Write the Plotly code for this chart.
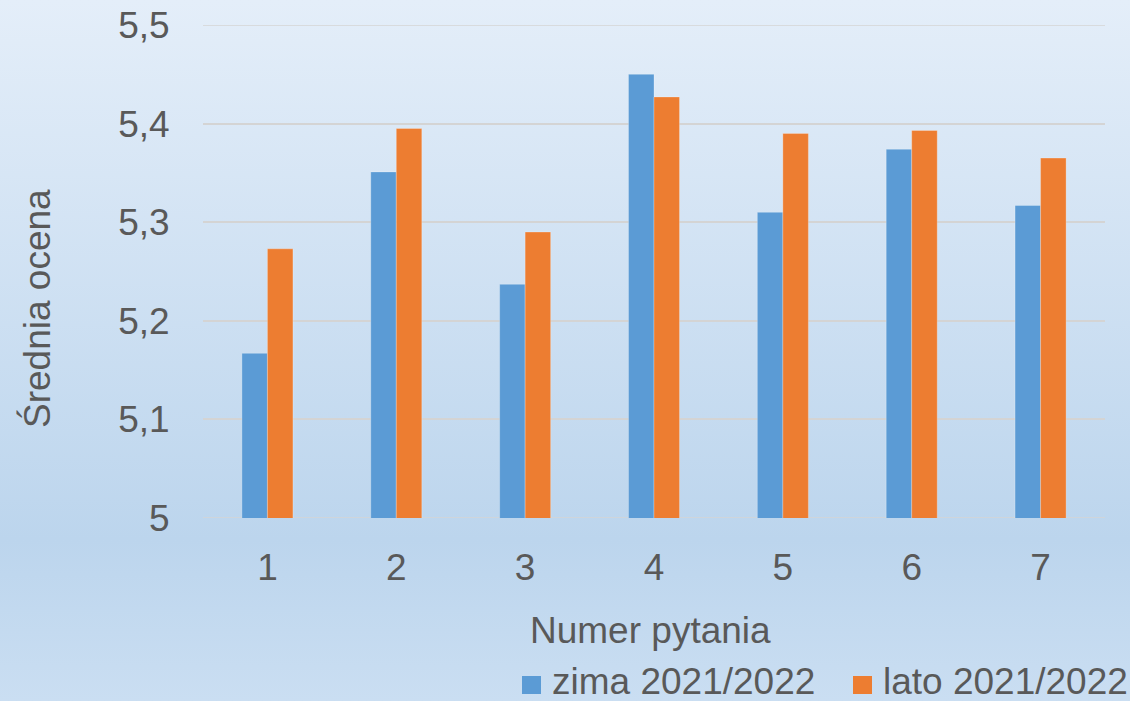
import base64
import plotly.graph_objects as go

# Survey results: mean score per question, two semesters
questions = ["1", "2", "3", "4", "5", "6", "7"]
series_names = ["zima 2021/2022", "lato 2021/2022"]
zima_values = [5.167, 5.351, 5.237, 5.450, 5.310, 5.374, 5.317]
lato_values = [5.273, 5.395, 5.290, 5.427, 5.390, 5.393, 5.365]
y_tick_values = [5.0, 5.1, 5.2, 5.3, 5.4, 5.5]
y_tick_labels = ["5", "5,1", "5,2", "5,3", "5,4", "5,5"]
x_title = "Numer pytania"
y_title = "Średnia ocena"

BLUE = "#5b9bd5"
ORANGE = "#ed7d31"
TEXT = "#595959"
GRID = "#d4d4d4"
FONT = "Liberation Sans, Arial, sans-serif"

W, H = 1130, 701
L, R, T, B = 203, 25, 25, 183
PW, PH = W - L - R, H - T - B


def px_x(px):
    """Pixel column -> paper x."""
    return (px - L) / PW


def px_y(py):
    """Pixel row -> paper y."""
    return (H - B - py) / PH


# soft vertical gradient for the chart background
svg = (
    '<svg xmlns="http://www.w3.org/2000/svg" width="10" height="100" preserveAspectRatio="none">'
    '<defs><linearGradient id="g" x1="0" y1="0" x2="0" y2="1">'
    '<stop offset="0" stop-color="#e4eef9"/>'
    '<stop offset="0.77" stop-color="#bcd5ed"/>'
    '<stop offset="1" stop-color="#cadef2"/>'
    '</linearGradient></defs>'
    '<rect width="10" height="100" fill="url(#g)"/></svg>'
)
bg_src = "data:image/svg+xml;base64," + base64.b64encode(svg.encode()).decode()

fig = go.Figure()
for name, vals, color in [(series_names[0], zima_values, BLUE),
                          (series_names[1], lato_values, ORANGE)]:
    fig.add_trace(go.Bar(
        x=questions, y=vals, name=name,
        marker=dict(color=color, line=dict(color="rgba(255,255,255,0.25)", width=1)),
        showlegend=False,
    ))

annotations = [
    dict(text=x_title, x=px_x(650), y=px_y(630), xref="paper", yref="paper",
         xanchor="center", yanchor="middle", showarrow=False,
         font=dict(family=FONT, size=37, color=TEXT)),
    dict(text=y_title, x=px_x(37), y=px_y(309), xref="paper", yref="paper",
         xanchor="center", yanchor="middle", textangle=-90, showarrow=False,
         font=dict(family=FONT, size=37, color=TEXT)),
]

# plotly skips gridlines sitting exactly on the range ends, so draw those two here
shapes = [
    dict(type="line", xref="paper", yref="y", x0=0, x1=1, y0=v, y1=v,
         line=dict(color=GRID, width=1.6), layer="below")
    for v in (y_tick_values[0], y_tick_values[-1])
]
# legend: swatch + label for each series
legend_items = [(series_names[0], BLUE, 522), (series_names[1], ORANGE, 853)]
for name, color, sx in legend_items:
    shapes.append(dict(type="rect", xref="paper", yref="paper",
                       x0=px_x(sx), x1=px_x(sx + 19), y0=px_y(694), y1=px_y(676),
                       fillcolor=color, line=dict(width=0)))
    annotations.append(dict(text=name, x=px_x(sx + 28), y=px_y(H + 3),
                            xref="paper", yref="paper", xanchor="left", yanchor="bottom",
                            showarrow=False, font=dict(family=FONT, size=37, color=TEXT)))

fig.update_layout(
    width=W, height=H,
    margin=dict(l=L, r=R, t=T, b=B, pad=0),
    paper_bgcolor="rgba(0,0,0,0)",
    plot_bgcolor="rgba(0,0,0,0)",
    barmode="group", bargap=0.604, bargroupgap=0,
    font=dict(family=FONT, size=37, color=TEXT),
    images=[dict(source=bg_src, xref="paper", yref="paper",
                 x=px_x(0), y=px_y(0), sizex=px_x(W) - px_x(0), sizey=px_y(0) - px_y(H),
                 xanchor="left", yanchor="top", sizing="stretch", layer="below")],
    shapes=shapes,
    annotations=annotations,
    xaxis=dict(
        showgrid=False, showline=False, zeroline=False, automargin=False,
        ticks="outside", ticklen=17, tickcolor="rgba(0,0,0,0)",
        tickfont=dict(family=FONT, size=37, color=TEXT),
    ),
    yaxis=dict(
        range=[5, 5.5], tickvals=y_tick_values, ticktext=y_tick_labels,
        showgrid=True, gridcolor=GRID, gridwidth=1.6,
        zeroline=False, showline=False, automargin=False,
        ticks="outside", ticklen=25, tickcolor="rgba(0,0,0,0)",
        tickfont=dict(family=FONT, size=37, color=TEXT),
    ),
)

fig.write_html("out.html")
